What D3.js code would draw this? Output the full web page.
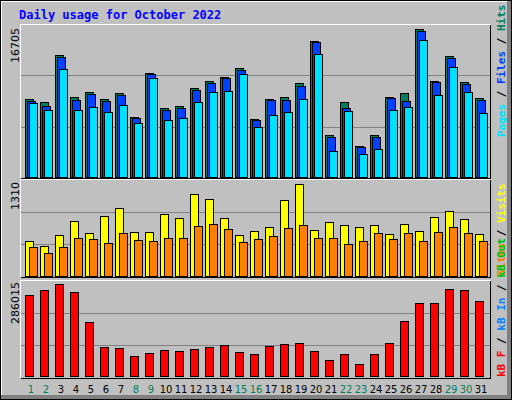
<!DOCTYPE html>
<html><head><meta charset="utf-8">
<script src="https://cdnjs.cloudflare.com/ajax/libs/d3/7.8.5/d3.min.js"></script>
<style>body{margin:0;background:#fff}</style></head>
<body><svg id="c" width="512" height="400"></svg>
<script>
const days = d3.range(1,32);
const weekend = [1,2,8,9,15,16,22,23,29,30];
const hits  = [8824,8488,13754,9048,9608,8824,9496,6777,11738,7816,8040,10057,10842,11290,12297,6553,8824,9048,10617,15322,4761,8488,3528,4761,9048,9496,16705,10842,13642,10730,8936];
const files = [8600,8040,13530,8712,9384,8600,9272,6665,11626,7592,7816,9832,10617,11178,12073,6441,8712,8712,10281,15210,4537,7816,3416,4537,8936,8600,16481,10730,13418,10505,8712];
const pages = [8376,7592,12185,7592,7927,7367,8152,6104,11178,6469,6693,8488,9608,9720,11626,5657,7031,7367,8824,13866,2968,7479,2634,3192,7592,7927,15434,9272,12409,9608,7255];
const visits= [495,424,581,781,610,853,967,624,624,881,824,1167,1096,824,581,638,696,1081,1310,653,767,724,696,724,595,738,638,838,924,810,595];
const sites = [410,324,410,538,524,467,610,510,495,538,538,710,738,667,481,524,567,681,724,538,538,453,495,610,524,610,495,624,695,610,495];
const kbytes= [251445,267164,286015,260877,166584,91150,88007,62862,72291,81721,78578,84864,91150,97436,75435,69148,94293,100579,103722,78578,50290,69148,37717,69148,103722,169727,226303,226303,270307,267164,232589];
const maxLabels = ["16705","1310","286015"];

const svg = d3.select("#c").attr("shape-rendering","crispEdges");
svg.append("rect").attr("x",0).attr("y",0).attr("width",512).attr("height",400).attr("fill","#000");
svg.append("rect").attr("x",1).attr("y",1).attr("width",510).attr("height",398).attr("fill","#808080");
svg.append("rect").attr("x",1).attr("y",1).attr("width",506).attr("height",394).attr("fill","#fff");
svg.append("rect").attr("x",2).attr("y",2).attr("width",505).attr("height",393).attr("fill","#c0c0c0");

svg.append("text").attr("x",19).attr("y",19).text("Daily usage for October 2022")
  .attr("font-family","DejaVu Sans Mono").attr("font-weight","bold").attr("font-size",12).attr("fill","#0000ff");

const x = d3.scaleBand().domain(days).range([23,488]).paddingInner(0);
const bx = d => x(d)+2;

function panel(y0,y1,top){
  svg.append("rect").attr("x",20).attr("y",y0).attr("width",471).attr("height",y1-y0).attr("fill","#fff");
  svg.append("rect").attr("x",21).attr("y",y0+1).attr("width",470).attr("height",y1-y0).attr("fill","#000");
  svg.append("rect").attr("x",21).attr("y",y0+1).attr("width",469).attr("height",y1-y0-1).attr("fill","#c0c0c0");
  const h=(y1-y0)/3;
  [1,2].forEach(k=>svg.append("line").attr("x1",21).attr("x2",490).attr("y1",Math.round(y0+h*k)).attr("y2",Math.round(y0+h*k)).attr("stroke","#808080"));
}
function bars(data,color,off,w,y){
  svg.append("g").selectAll("rect").data(data).join("rect")
   .attr("x",(d,i)=>bx(days[i])+off+0.5).attr("y",d=>Math.round(y(d))+0.5)
   .attr("width",w).attr("height",d=>y(0)-Math.round(y(d)))
   .attr("fill",color).attr("stroke","#000");
}
// Panel 1
panel(24,178);
const y1 = d3.scaleLinear().domain([0,16705]).range([177,29]);
bars(hits,"#00805c",0,8,y1);
bars(files,"#0040ff",2,8,y1);
bars(pages,"#00e0ff",4,8,y1);
// Panel 2
panel(179,277);
const y2 = d3.scaleLinear().domain([0,1310]).range([276,184]);
bars(visits,"#ffff00",0,8,y2);
bars(sites,"#ff8000",4,8,y2);
// Panel 3
panel(280,378);
const y3 = d3.scaleLinear().domain([0,286015]).range([376,284]);
bars(kbytes,"#ff0000",0,8,y3);

// left max labels
[[28,maxLabels[0]],[182,maxLabels[1]],[282,maxLabels[2]]].forEach(([yy,t])=>{
  svg.append("text").attr("transform",`translate(19,${yy}) rotate(-90)`).attr("text-anchor","end")
   .attr("font-family","DejaVu Sans").attr("font-size",11).attr("fill","#000").text(t);
});
// right labels
function rlabel(yy,parts){
  const t=svg.append("text").attr("transform",`translate(505,${yy}) rotate(-90)`)
   .attr("font-family","DejaVu Sans Mono").attr("font-size",11).attr("font-weight","bold");
  parts.forEach(([s,c])=>t.append("tspan").attr("fill",c).text(s));
}
rlabel(137,[["Pages","#00e0ff"],[" / ","#000"],["Files","#0040ff"],[" / ","#000"],["Hits","#00805c"]]);
rlabel(276,[["Sites","#ff8000"],[" / ","#000"],["Visits","#ffff00"]]);
rlabel(377,[["kB F","#ff0000"],[" / ","#000"],["kB In","#0080ff"],[" / ","#000"],["kB Out","#00c000"]]);

// day labels
svg.append("g").selectAll("text").data(days).join("text")
  .attr("x",d=>bx(d)+6).attr("y",393).attr("text-anchor","middle")
  .attr("font-family","DejaVu Sans").attr("font-size",10)
  .attr("fill",d=>weekend.includes(d)?"#00805c":"#000").text(d=>d);
</script></body></html>
